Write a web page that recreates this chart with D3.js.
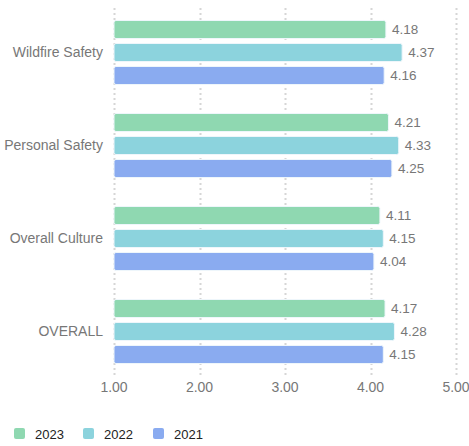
<!DOCTYPE html>
<html><head><meta charset="utf-8">
<script src="https://cdn.jsdelivr.net/npm/d3@7"></script>
<style>body{margin:0;background:#fff}svg{display:block}text{font-family:"Liberation Sans",Arial,sans-serif}</style>
</head><body>
<svg id="c" width="469" height="446"></svg>
<script>
const categories = ["Wildfire Safety","Personal Safety","Overall Culture","OVERALL"];
const seriesNames = ["2023","2022","2021"];
const v2023 = [4.18,4.21,4.11,4.17];
const v2022 = [4.37,4.33,4.15,4.28];
const v2021 = [4.16,4.25,4.04,4.15];
const xTicks = [1,2,3,4,5];
const colors = ["#8fd8b1","#8cd3dd","#8aabf0"];
const series = [v2023,v2022,v2021];

const svg = d3.select("#c");
const x = d3.scaleLinear().domain([1,5]).range([114,456]);
const y0 = d3.scaleBand().domain(categories).range([6,378]);
const y1 = d3.scaleBand().domain(seriesNames).range([14.5,78.5]).paddingInner(5/23).paddingOuter(0);

// grid
svg.append("g").selectAll("line").data(xTicks).join("line")
  .attr("x1",d=>Math.round(x(d))+0.5).attr("x2",d=>Math.round(x(d))+0.5)
  .attr("y1",8).attr("y2",378)
  .attr("stroke","#d6d6d6").attr("stroke-width",2).attr("stroke-dasharray","2,3");

// bars
const g = svg.append("g");
categories.forEach((c,i)=>{
  seriesNames.forEach((s,j)=>{
    const v = series[j][i];
    const yy = y0(c)+y1(s);
    g.append("rect").attr("x",x(1)).attr("y",yy)
      .attr("width",x(v)-x(1)).attr("height",y1.bandwidth())
      .attr("rx",2).attr("fill",colors[j])
      .attr("stroke","#eef6fb").attr("stroke-width",1);
    g.append("text").attr("x",x(v)+6).attr("y",yy+y1.bandwidth()/2)
      .attr("dy","0.35em").attr("font-size",13.5).attr("fill","#777")
      .text(v.toFixed(2));
  });
});

// category labels
svg.append("g").selectAll("text").data(categories).join("text")
  .attr("x",103).attr("y",d=>y0(d)+y0.bandwidth()/2).attr("dy","0.35em")
  .attr("text-anchor","end").attr("font-size",14).attr("fill","#777").text(d=>d);

// x tick labels
svg.append("g").selectAll("text").data(xTicks).join("text")
  .attr("x",d=>x(d)).attr("y",387).attr("dy","0.35em")
  .attr("text-anchor","middle").attr("font-size",14).attr("fill","#777")
  .text(d=>d3.format(".2f")(d));

// legend
const lx = [14,83,153];
const lg = svg.append("g");
seriesNames.forEach((s,j)=>{
  lg.append("rect").attr("x",lx[j]).attr("y",428).attr("width",11).attr("height",11)
    .attr("rx",2).attr("fill",colors[j]);
  lg.append("text").attr("x",lx[j]+21).attr("y",434).attr("dy","0.35em")
    .attr("font-size",13).attr("fill","#222").text(s);
});
</script>
</body></html>
